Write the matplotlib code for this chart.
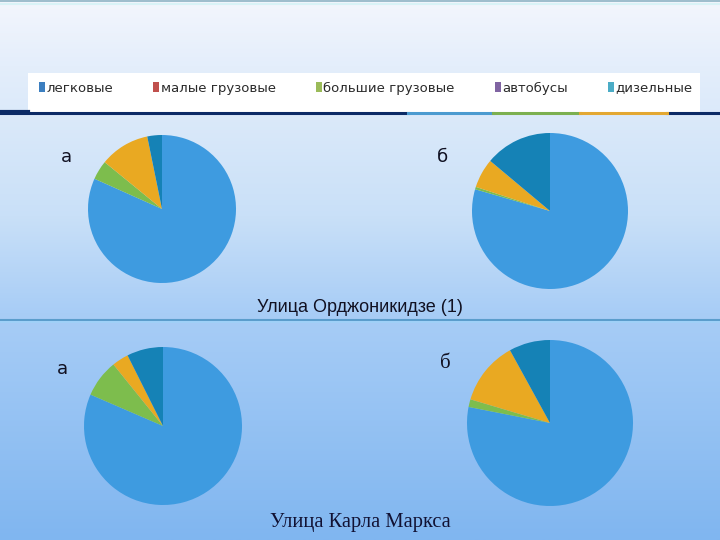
import matplotlib
matplotlib.use("Agg")
import matplotlib.pyplot as plt
import numpy as np
from matplotlib.colors import LinearSegmentedColormap
from matplotlib.patches import Rectangle, Patch
from matplotlib.lines import Line2D

# categories and shares (%)
categories = ["легковые", "малые грузовые", "большие грузовые", "автобусы", "дизельные"]
ordzh_a = [81.7, 0.0, 4.2, 10.9, 3.2]
ordzh_b = [79.5, 0.0, 0.5, 6.1, 13.9]
marx_a = [81.5, 0.0, 7.7, 3.4, 7.4]
marx_b = [78.1, 0.0, 1.5, 12.4, 8.0]

pie_colors = ["#3e9be0", "#c0504d", "#7dbd4d", "#e9a922", "#1582b6"]
legend_colors = ["#3c7fc0", "#c0504d", "#9bbb59", "#8064a2", "#4bacc6"]

W, H = 720, 540
fig = plt.figure(figsize=(7.2, 5.4), dpi=100)

# background gradient
bg = fig.add_axes([0, 0, 1, 1])
cmap = LinearSegmentedColormap.from_list(
    "bg", [(0, "#f3f6fd"), (0.12, "#e4eefb"), (0.4, "#c9e0f8"),
           (0.58, "#a8cdf6"), (1.0, "#80b6f0")])
grad = np.linspace(0, 1, 256).reshape(-1, 1)
bg.imshow(grad, aspect="auto", cmap=cmap, extent=[0, W, H, 0])
bg.set_xlim(0, W)
bg.set_ylim(H, 0)
bg.axis("off")

# decorative lines
bg.add_line(Line2D([0, W], [1, 1], color="#8fb3c4", lw=1.2))
bg.add_line(Line2D([0, W], [4, 4], color="#d9f3f7", lw=1.5))
bg.add_patch(Rectangle((28, 73), 672, 39, facecolor="white", edgecolor="none"))
bg.add_line(Line2D([0, 408], [113, 113], color="#0c2b66", lw=2.2))
bg.add_line(Line2D([667, W], [113, 113], color="#0c2b66", lw=2.2))
bg.add_line(Line2D([0, 28], [112, 112], color="#0c2b66", lw=3))
for x0, x1, c in [(408, 493, "#4b9bd0"), (493, 580, "#7cb050"), (580, 667, "#e3a832")]:
    bg.add_line(Line2D([x0, x1], [113, 113], color=c, lw=2.2))
bg.add_line(Line2D([0, W], [320, 320], color="#5b9dcc", lw=1.5))
bg.add_line(Line2D([0, W], [322, 322], color="#9fd2f8", lw=1.2))

# legend
handles = [Patch(facecolor=c, edgecolor="none") for c in legend_colors]
fig.legend(handles, categories, loc="center left", bbox_to_anchor=(39 / W, 1 - 88 / H),
           ncol=5, frameon=False, fontsize=9.5, handlelength=0.45, handleheight=0.9,
           handletextpad=0.1, columnspacing=3.05, borderaxespad=0, borderpad=0,
           labelcolor="#2a2a2a")

# pies: (values, center x, center y, radius) in pixels
pies = [(ordzh_a, 162, 209, 74), (ordzh_b, 550, 211, 78),
        (marx_a, 163, 426, 79), (marx_b, 550, 423, 83)]
for vals, cx, cy, r in pies:
    ax = fig.add_axes([(cx - r) / W, 1 - (cy + r) / H, 2 * r / W, 2 * r / H])
    ax.pie(vals, colors=pie_colors, startangle=90, counterclock=False, radius=1,
           wedgeprops=dict(linewidth=0))
    ax.set_xlim(-1, 1)
    ax.set_ylim(-1, 1)
    ax.axis("off")

# labels
bg.text(66, 157, "а", fontsize=13, family="DejaVu Sans", color="#111122", ha="center", va="center")
bg.text(443, 157, "б", fontsize=13, family="DejaVu Sans", color="#111122", ha="center", va="center")
bg.text(62, 369, "а", fontsize=13, family="DejaVu Sans", color="#111122", ha="center", va="center")
bg.text(445, 364, "б", fontsize=15, family="Liberation Serif", color="#111122", ha="center", va="center")
bg.text(360, 308, "Улица Орджоникидзе (1)", fontsize=13, family="Liberation Sans",
        color="#111122", ha="center", va="center")
bg.text(360, 522, "Улица Карла Маркса", fontsize=14.8, family="Liberation Serif",
        color="#111133", ha="center", va="center")

fig.savefig("out.png", dpi=100)
